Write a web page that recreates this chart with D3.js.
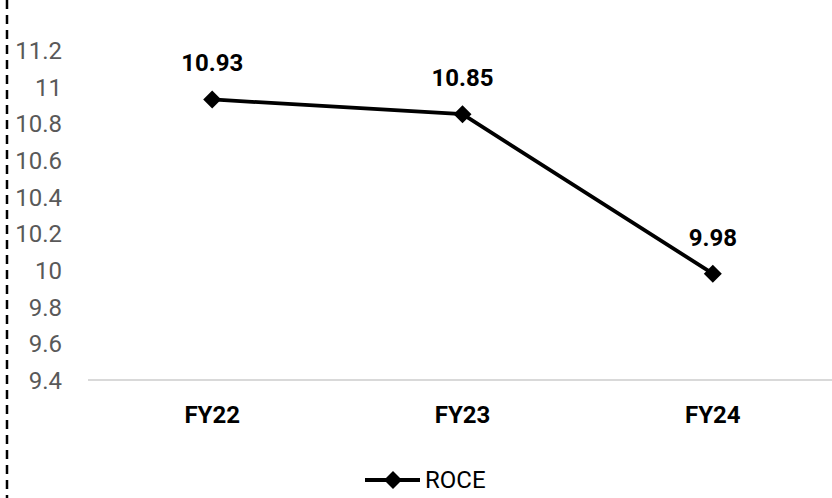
<!DOCTYPE html>
<html>
<head>
<meta charset="utf-8">
<script src="https://cdn.jsdelivr.net/npm/d3@7"></script>
<style>
  html, body { margin: 0; padding: 0; background: #fff; }
  svg { display: block; font-family: Roboto, "Noto Sans", sans-serif; }
</style>
</head>
<body>
<svg id="chart" width="832" height="498"></svg>
<script>
// ROCE by financial year
const categories = ["FY22", "FY23", "FY24"];
const roce = [10.93, 10.85, 9.98];
const yTicks = [9.4, 9.6, 9.8, 10, 10.2, 10.4, 10.6, 10.8, 11, 11.2];
const seriesName = "ROCE";

const W = 832, H = 498;
const svg = d3.select("#chart");

const x = d3.scaleBand().domain(categories).range([87, 838]).padding(0);
const y = d3.scaleLinear().domain([9.4, 11.4]).range([380, 13.3]);

// dashed border on the left edge
svg.append("line")
  .attr("x1", 7).attr("x2", 7).attr("y1", 0).attr("y2", H)
  .attr("stroke", "#000").attr("stroke-width", 2.5)
  .attr("stroke-dasharray", "9,6");

// y axis labels (no axis line)
const yAxis = d3.axisLeft(y).tickValues(yTicks).tickSize(0).tickPadding(0)
  .tickFormat(d => d3.format("~g")(d));
const gy = svg.append("g").attr("transform", "translate(62,0)").call(yAxis);
gy.select(".domain").remove();
gy.selectAll("text")
  .attr("font-size", 24).attr("fill", "#595959")
  .attr("font-family", "Roboto, sans-serif")
  .attr("dy", "0.35em");

// category axis line
svg.append("line")
  .attr("x1", 88).attr("x2", W).attr("y1", y(9.4)).attr("y2", y(9.4))
  .attr("stroke", "#d9d9d9").attr("stroke-width", 2);

// category labels
const xAxis = d3.axisBottom(x).tickSize(0).tickPadding(0);
const gx = svg.append("g").attr("transform", `translate(0,${y(9.4)})`).call(xAxis);
gx.select(".domain").remove();
gx.selectAll("text")
  .attr("font-size", 24).attr("font-weight", "bold").attr("fill", "#000")
  .attr("font-family", "Roboto, sans-serif")
  .attr("dy", null).attr("y", 43);

const data = categories.map((c, i) => ({ c, v: roce[i] }));
const cx = d => x(d.c) + x.bandwidth() / 2;

// series line
svg.append("path")
  .datum(data)
  .attr("fill", "none").attr("stroke", "#000").attr("stroke-width", 3.8)
  .attr("d", d3.line().x(cx).y(d => y(d.v)));

// diamond markers
const diamond = d3.symbol().type(d3.symbolSquare).size(162);
svg.selectAll(".marker").data(data).join("path")
  .attr("class", "marker")
  .attr("d", diamond)
  .attr("transform", d => `translate(${cx(d)},${y(d.v)}) rotate(45)`)
  .attr("fill", "#000");

// value labels
svg.selectAll(".vlabel").data(data).join("text")
  .attr("class", "vlabel")
  .attr("x", cx).attr("y", d => y(d.v) - 28)
  .attr("text-anchor", "middle")
  .attr("font-size", 24).attr("font-weight", "bold").attr("fill", "#000")
  .text(d => d.v.toFixed(2));

// legend
const lg = svg.append("g").attr("transform", "translate(365,480)");
lg.append("line").attr("x1", 0).attr("x2", 55).attr("y1", 0).attr("y2", 0)
  .attr("stroke", "#000").attr("stroke-width", 3.8);
lg.append("path").attr("d", diamond).attr("transform", "translate(28,0) rotate(45)").attr("fill", "#000");
lg.append("text").attr("x", 60).attr("y", 0).attr("dy", "0.35em")
  .attr("font-size", 24).attr("fill", "#000").text(seriesName);
</script>
</body>
</html>
